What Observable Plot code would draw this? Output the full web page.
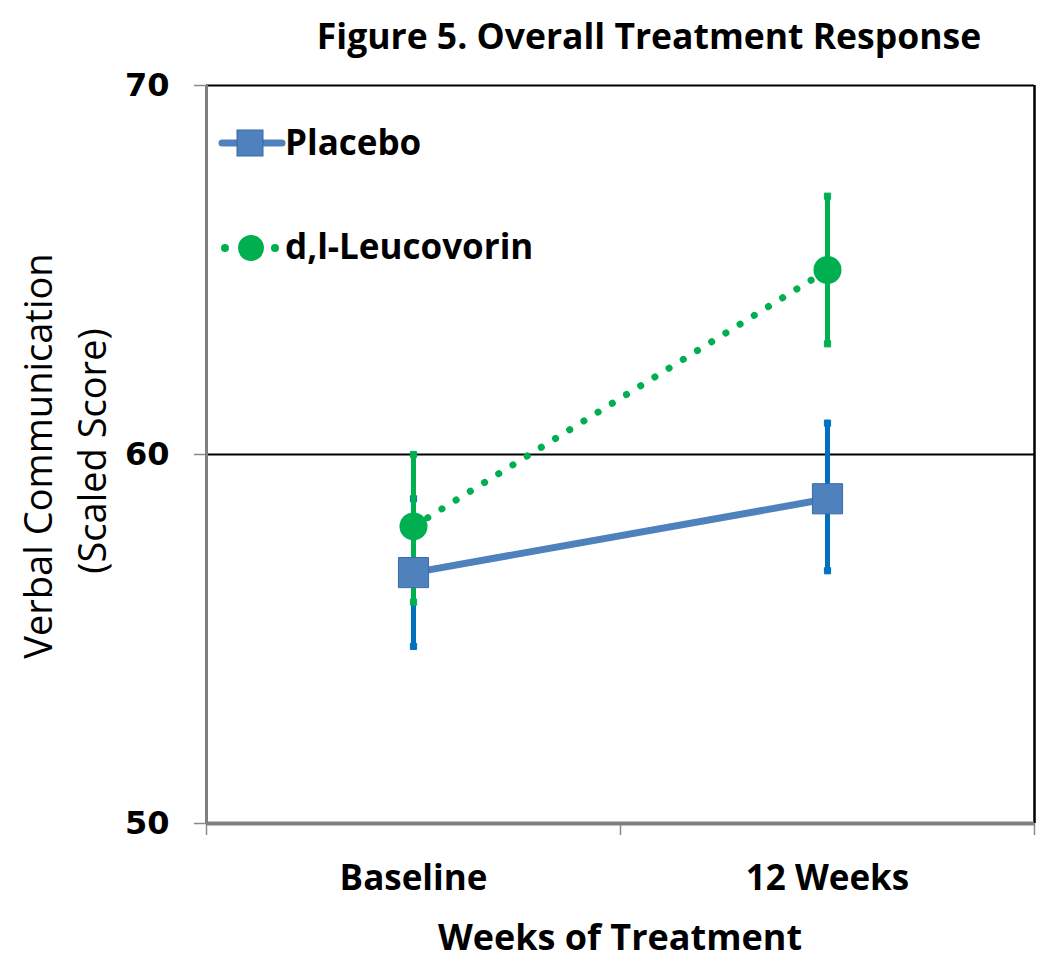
<!DOCTYPE html>
<html><head><meta charset="utf-8">
<script src="https://cdn.jsdelivr.net/npm/d3@7"></script>
<script src="https://cdn.jsdelivr.net/npm/@observablehq/plot@0.6"></script>
<style>
body{margin:0;background:#fff;}
#wrap{position:relative;width:1050px;height:974px;overflow:hidden;}
</style></head><body><div id="wrap"></div>
<script>
const categories = ["Baseline", "12 Weeks"];
const seriesNames = ["Placebo", "d,l-Leucovorin"];
const placeboMean = [56.8, 58.8];
const placeboLow = [54.8, 56.85];
const placeboHigh = [58.8, 60.85];
const leucoMean = [58.05, 65.0];
const leucoLow = [56.0, 63.0];
const leucoHigh = [60.0, 67.0];
const yTicks = [50, 60, 70];
const titleText = "Figure 5. Overall Treatment Response";
const yTitleLines = ["Verbal Communication", "(Scaled Score)"];
const xTitle = "Weeks of Treatment";

const blue = "#4F81BD", blueErr = "#0070C0", green = "#00B050";
const rows = (m, lo, hi) => categories.map((c, i) => ({cat: c, pos: i + 0.5, mean: m[i], lo: lo[i], hi: hi[i]}));
const placebo = rows(placeboMean, placeboLow, placeboHigh);
const leuco = rows(leucoMean, leucoLow, leucoHigh);

const chart = Plot.plot({
  width: 1050, height: 974,
  marginLeft: 206, marginRight: 16, marginTop: 85, marginBottom: 151,
  x: {domain: [0, 2]},
  y: {domain: [50, 70]},
  style: {background: "white", fontFamily: "Open Sans", color: "#000", overflow: "visible"},
  marks: [
    Plot.ruleY([60], {stroke: "#000", strokeWidth: 2}),
    Plot.ruleY([70], {stroke: "#000", strokeWidth: 2}),
    Plot.ruleX([2], {stroke: "#000", strokeWidth: 2.5}),
    Plot.axisX({ticks: [0, 1, 2], tickFormat: () => "", tickSize: 12, stroke: "#8a8a8a", strokeWidth: 1.5, label: null}),
    Plot.axisX({ticks: [0.5, 1.5], tickSize: 0, tickPadding: 42, tickFormat: d => categories[Math.floor(d)],
      fontSize: 35, fontWeight: "bold", fontFamily: "Open Sans", label: null}),
    Plot.axisY({ticks: yTicks, tickSize: 12, tickPadding: 25, fontSize: 32, fontWeight: "bold",
      fontFamily: "DejaVu Sans", stroke: "#8a8a8a", strokeWidth: 1.5, label: null}),
    Plot.ruleX([0], {stroke: "#7f7f7f", strokeWidth: 3}),
    Plot.ruleY([50], {stroke: "#7f7f7f", strokeWidth: 4}),
    // error bars
    Plot.ruleX(placebo, {x: "pos", y1: "lo", y2: "hi", stroke: blueErr, strokeWidth: 5}),
    Plot.dot(placebo, {x: "pos", y: "lo", symbol: "square", r: 3.5, fill: blueErr, stroke: blueErr, strokeWidth: 1}),
    Plot.dot(placebo, {x: "pos", y: "hi", symbol: "square", r: 3.5, fill: blueErr, stroke: blueErr, strokeWidth: 1}),
    Plot.ruleX(leuco, {x: "pos", y1: "lo", y2: "hi", stroke: green, strokeWidth: 5}),
    Plot.dot(leuco, {x: "pos", y: "lo", symbol: "square", r: 3.5, fill: green, stroke: green, strokeWidth: 1}),
    Plot.dot(leuco, {x: "pos", y: "hi", symbol: "square", r: 3.5, fill: green, stroke: green, strokeWidth: 1}),
    // leucovorin series
    Plot.line(leuco, {x: "pos", y: "mean", stroke: green, strokeWidth: 7, strokeDasharray: "0.1 16.6", strokeLinecap: "round"}),
    Plot.dot(leuco, {x: "pos", y: "mean", r: 14, fill: green}),
    // placebo series
    Plot.line(placebo, {x: "pos", y: "mean", stroke: blue, strokeWidth: 7}),
    Plot.dot(placebo, {x: "pos", y: "mean", symbol: "square", r: 17, fill: blue, stroke: "#3A6AA8", strokeWidth: 1})
  ]
});
document.getElementById("wrap").appendChild(chart);

const svg = d3.select(chart);
// title
svg.append("text").attr("x", 649).attr("y", 49).attr("text-anchor", "middle")
  .attr("font-family", "Open Sans").attr("font-weight", "bold").attr("font-size", 35.5).attr("fill", "#000").text(titleText);
// x title
svg.append("text").attr("x", 620).attr("y", 950).attr("text-anchor", "middle")
  .attr("font-family", "Open Sans").attr("font-weight", "bold").attr("font-size", 36).attr("fill", "#000").text(xTitle);
// y title
const yTitlePos = [[52, 456], [106, 451]];
yTitleLines.forEach((t, i) => {
  svg.append("text").attr("transform", `translate(${yTitlePos[i][0]},${yTitlePos[i][1]}) rotate(-90)`)
    .attr("text-anchor", "middle").attr("font-family", "Open Sans").attr("font-size", 38).attr("fill", "#000").text(t);
});
// legend
const lg = svg.append("g");
lg.append("line").attr("x1", 222).attr("x2", 282).attr("y1", 143).attr("y2", 143)
  .attr("stroke", blue).attr("stroke-width", 7).attr("stroke-linecap", "round");
lg.append("rect").attr("x", 237).attr("y", 130).attr("width", 26).attr("height", 26).attr("fill", blue).attr("stroke", "#3A6AA8");
[[225, 4], [251, 13], [275, 4]].forEach(([cx, r]) => lg.append("circle").attr("cx", cx).attr("cy", 248).attr("r", r).attr("fill", green));
[[155, seriesNames[0]], [259, seriesNames[1]]].forEach(([y, t]) => {
  lg.append("text").attr("x", 285).attr("y", y).attr("text-anchor", "start").attr("font-family", "Open Sans").attr("font-weight", "bold")
    .attr("font-size", 35).attr("fill", "#000").text(t);
});
</script></body></html>
